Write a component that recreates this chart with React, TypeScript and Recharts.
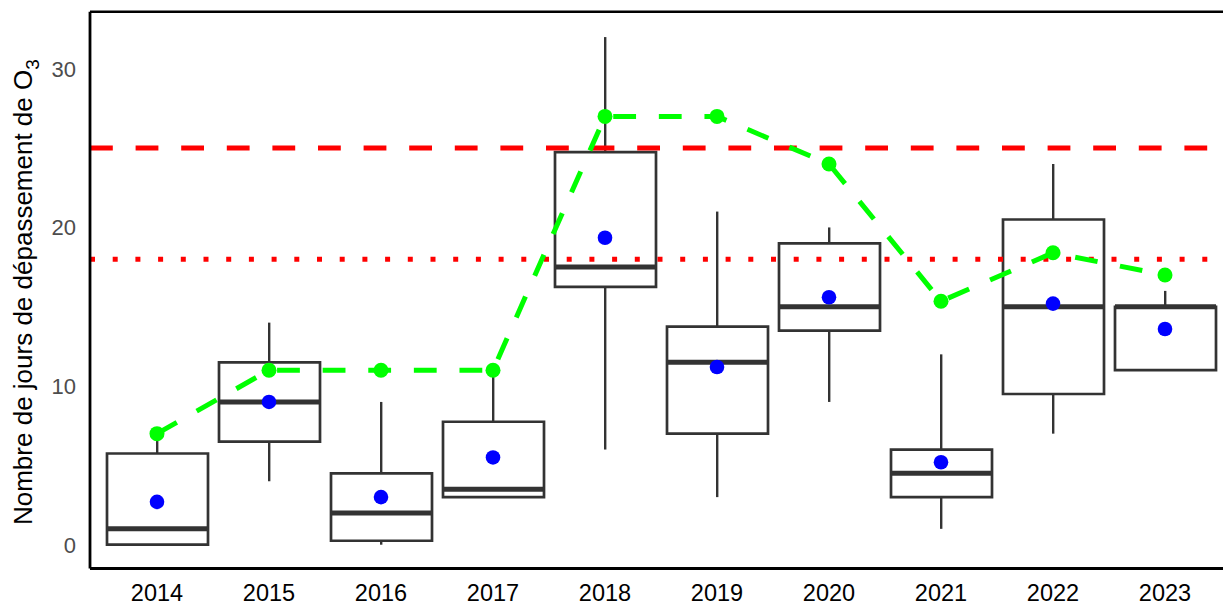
import { ComposedChart, Bar, Line, XAxis, YAxis, ReferenceLine } from 'recharts';

const years = ['2014', '2015', '2016', '2017', '2018', '2019', '2020', '2021', '2022', '2023'];
const whiskerLow = [0, 4, 0, 3, 6, 3, 9, 1, 7, 11];
const q1 = [0, 6.5, 0.25, 3, 16.25, 7, 13.5, 3, 9.5, 11];
const median = [1, 9, 2, 3.5, 17.5, 11.5, 15, 4.5, 15, 15];
const q3 = [5.75, 11.5, 4.5, 7.75, 24.75, 13.75, 19, 6, 20.5, 15];
const whiskerHigh = [7, 14, 9, 11, 32, 21, 20, 12, 24, 16];
const means = [2.7, 9, 3, 5.5, 19.35, 11.2, 15.6, 5.2, 15.2, 13.6];
const maxDays = [7, 11, 11, 11, 27, 27, 24, 15.35, 18.4, 17];
const yTicks = [0, 10, 20, 30];
const yDomain = [-1.5, 33.6];
const targetValue = 25;
const alertValue = 18;

const data = years.map((year, i) => ({
  year,
  box: [q1[i], q3[i]],
  upper: [q3[i], whiskerHigh[i]],
  lower: [whiskerLow[i], q1[i]],
  med: [median[i], median[i]],
  mean: means[i],
  maxDays: maxDays[i],
}));

const font = '"Liberation Sans", Arial, sans-serif';
const boxColor = '#333333';
const xPad = { left: 11, right: 11 };

const MedianLine = (props: any) => {
  const { x, y, width } = props;
  if (x == null || y == null) return null;
  return <line x1={x} x2={x + width} y1={y} y2={y} stroke={boxColor} strokeWidth={5} />;
};

const YLabel = (props: any) => {
  const vb = props.viewBox || { x: 0, y: 0, width: 0, height: 0 };
  const cx = vb.x + 32;
  const cy = vb.y + vb.height / 2 + 2;
  return (
    <text
      x={cx}
      y={cy}
      transform={`rotate(-90, ${cx}, ${cy})`}
      textAnchor="middle"
      fontSize={26}
      fontFamily={font}
      fill="#000"
    >
      Nombre de jours de dépassement de O
      <tspan dy={7} fontSize={19}>3</tspan>
    </text>
  );
};

export default function App() {
  return (
    <div style={{ width: 1223, height: 605, fontFamily: font, overflow: 'hidden' }}>
      <style>{'body{margin:0}'}</style>
      <ComposedChart
        width={1223}
        height={605}
        data={data}
        margin={{ top: 11.7, right: -9, left: 0, bottom: 0 }}
      >
        <XAxis
          dataKey="year"
          type="category"
          padding={xPad}
          axisLine={{ stroke: '#000', strokeWidth: 2.8 }}
          tickLine={false}
          tickSize={6}
          tickMargin={9.5}
          height={36.5}
          interval={0}
          tick={{ fill: '#000', fontSize: 23.5, fontFamily: font }}
        />
        <XAxis xAxisId="m" dataKey="year" type="category" padding={xPad} hide />
        <XAxis xAxisId="w1" dataKey="year" type="category" padding={xPad} hide />
        <XAxis xAxisId="w2" dataKey="year" type="category" padding={xPad} hide />
        <YAxis
          type="number"
          domain={yDomain}
          ticks={yTicks}
          width={90}
          axisLine={{ stroke: '#000', strokeWidth: 2.8 }}
          tickLine={false}
          tickSize={6}
          tickMargin={8}
          tick={{ fill: '#4d4d4d', fontSize: 22, fontFamily: font }}
          label={{ content: <YLabel /> }}
        />
        <ReferenceLine y={yDomain[1]} stroke="#000" strokeWidth={2.5} />
        <Bar xAxisId="w1" dataKey="upper" barSize={2.4} fill={boxColor} isAnimationActive={false} />
        <Bar xAxisId="w2" dataKey="lower" barSize={2.4} fill={boxColor} isAnimationActive={false} />
        <Bar
          dataKey="box"
          barSize={101}
          fill="none"
          stroke={boxColor}
          strokeWidth={2.7}
          isAnimationActive={false}
        />
        <Bar
          xAxisId="m"
          dataKey="med"
          barSize={101}
          shape={<MedianLine />}
          isAnimationActive={false}
        />
        <ReferenceLine y={targetValue} stroke="#ff0000" strokeWidth={5} strokeDasharray="22.8 22.8" />
        <ReferenceLine y={alertValue} stroke="#ff0000" strokeWidth={5} strokeDasharray="5 17.7" />
        <Line
          type="linear"
          dataKey="maxDays"
          stroke="#00ff00"
          strokeWidth={5}
          strokeDasharray="22.8 22.8"
          dot={{ r: 7.5, fill: '#00ff00', stroke: 'none' }}
          activeDot={false}
          isAnimationActive={false}
        />
        <Line
          type="linear"
          dataKey="mean"
          stroke="none"
          dot={{ r: 7.3, fill: '#0000ff', stroke: 'none' }}
          activeDot={false}
          isAnimationActive={false}
        />
      </ComposedChart>
    </div>
  );
}
